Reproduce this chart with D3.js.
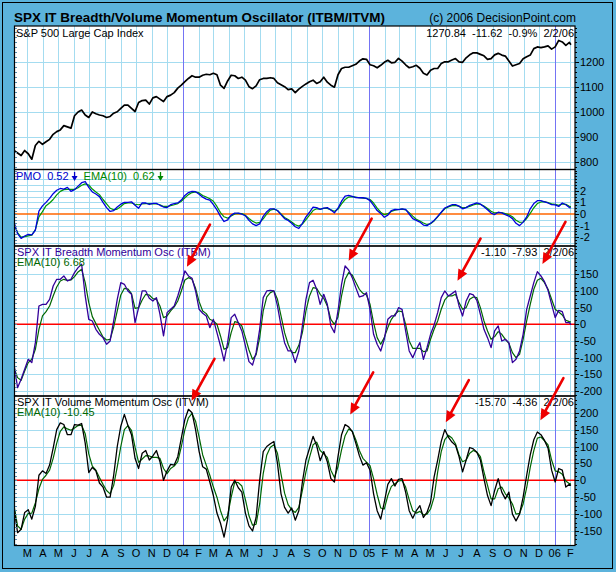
<!DOCTYPE html>
<html><head><meta charset="utf-8">
<script src="https://cdn.jsdelivr.net/npm/d3@7"></script>
<style>html,body{margin:0;padding:0;background:#fff;} svg{display:block;} text{white-space:pre;}</style>
</head><body><svg id="c" width="616" height="572"></svg>
<script>
// ---------------- DATA (weekly readings, first week starts 2003-02-03, last point 2006-02-02) ----------------
const firstWeek = new Date(2003, 1, 3);
const lastDay = new Date(2006, 1, 2);

const spx = [845,835,825,845,832,810,865,882,870,880, 890,910,921,928,945,940,935,985,1000,1008,
 988,978,1000,993,988,985,978,982,995,1001, 1015,1028,1028,1015,1002,1038,1046,1048,1032,1057,
 1062,1052,1042,1062,1068,1078,1096,1108,1122,1135, 1146,1140,1140,1148,1152,1150,1156,1150,1108,1095,
 1125,1148,1146,1135,1140,1128,1102,1094,1105,1130, 1135,1135,1138,1135,1118,1110,1102,1090,1093,1078,
 1092,1103,1113,1122,1128,1115,1122,1140,1120,1108, 1100,1150,1175,1180,1180,1186,1192,1205,1214,1212,
 1190,1186,1178,1188,1200,1208,1198,1200,1216,1205, 1190,1178,1182,1188,1176,1156,1149,1168,1175,1175,
 1195,1202,1202,1209,1215,1202,1200,1218,1230,1238, 1238,1232,1226,1212,1215,1230,1236,1229,1225,1205,
 1185,1190,1195,1214,1222,1229,1255,1262,1259,1262, 1266,1253,1262,1288,1282,1268,1280,1270.84];

const pmo = [-0.7,-1.7,-2.1,-1.9,-1.75,-1.8,-1.4,0.25,0.7,1.0, 1.35,1.75,2.05,2.2,2.15,2.3,1.95,2.1,2.4,2.7,
 2.8,2.3,1.9,1.72,1.5,1.0,0.55,0.22,0.3,0.6, 0.85,1.0,1.0,1.05,0.75,0.5,0.95,0.95,0.82,0.92,
 0.92,0.75,0.6,0.55,0.8,0.9,0.95,1.2,1.6,1.85, 1.95,1.92,1.7,1.45,1.28,1.2,0.8,0.36,-0.2,-0.65,
 -0.5,-0.1,0.08,0.08,-0.02,-0.15,-0.55,-0.85,-1.0,-0.85, -0.2,0.2,0.45,0.45,0.3,-0.05,-0.4,-0.55,-0.8,-1.1,
 -1.25,-0.8,-0.25,0.15,0.6,0.55,0.4,0.5,0.55,0.35, 0.1,0.5,1.1,1.55,1.6,1.52,1.42,1.4,1.4,1.35,
 1.15,0.75,0.3,0.05,-0.28,-0.1,0.3,0.4,0.38,0.45, 0.4,0.0,-0.4,-0.55,-0.7,-0.95,-1.0,-0.8,-0.55,-0.2,
 0.15,0.52,0.66,0.8,0.8,0.68,0.45,0.55,0.75,0.85, 0.95,0.85,0.62,0.36,0.08,-0.05,0.15,0.1,-0.05,-0.18,
 -0.4,-0.8,-1.0,-0.7,-0.25,0.45,0.9,1.15,1.15,1.05, 0.95,0.8,0.78,0.65,0.95,0.8,0.55,0.52];

const pmoEma = [-0.9,-1.6,-2.0,-1.95,-1.88,-1.82,-1.35,-0.25,0.2,0.72, 0.95,1.25,1.65,1.95,2.1,2.12,2.12,2.12,2.27,2.48,
 2.6,2.5,2.15,1.9,1.67,1.25,0.87,0.5,0.36,0.42, 0.65,0.9,0.95,0.95,0.84,0.8,0.86,0.9,0.9,0.86,
 0.86,0.8,0.65,0.65,0.72,0.8,0.9,1.1,1.4,1.67, 1.85,1.9,1.82,1.6,1.46,1.31,1.1,0.65,0.12,-0.24,
 -0.36,-0.18,0.0,0.06,0.03,-0.12,-0.39,-0.63,-0.78,-0.72, -0.42,0.0,0.33,0.42,0.3,0.0,-0.3,-0.48,-0.69,-0.93,
 -1.04,-0.87,-0.48,-0.09,0.3,0.45,0.42,0.48,0.48,0.36, 0.24,0.42,0.87,1.25,1.46,1.5,1.46,1.4,1.37,1.34,
 1.25,0.95,0.5,0.15,-0.06,0.03,0.21,0.33,0.39,0.42, 0.36,0.12,-0.18,-0.45,-0.6,-0.78,-0.9,-0.84,-0.6,-0.24,
 0.12,0.45,0.6,0.72,0.75,0.66,0.54,0.57,0.66,0.78, 0.87,0.84,0.69,0.48,0.24,0.09,0.12,0.12,0.03,-0.06,
 -0.24,-0.54,-0.72,-0.69,-0.39,0.06,0.54,0.9,1.04,1.07, 0.98,0.87,0.84,0.75,0.87,0.84,0.66,0.62];

const itbm = [-120,-190,-165,-135,-105,-115,-55,55,60,60, 75,115,135,135,145,130,135,155,170,180,
 85,15,10,-15,-30,-40,-60,-50,10,75, 125,120,100,90,5,50,100,100,78,70,
 80,30,-35,35,45,55,85,120,160,145, 138,100,45,33,25,-10,15,-25,-65,-110,
 -55,20,30,5,-20,-65,-112,-122,-85,-15, 80,100,102,100,55,-5,-55,-80,-80,-115,
 -80,-5,75,125,132,105,60,90,60,-5, -25,40,120,175,163,140,110,82,85,95,
 45,-30,-60,-80,-45,15,25,25,50,45, -20,-80,-100,-75,-55,-105,-70,-30,-2,35,
 80,100,85,92,100,55,25,70,92,88, 72,30,-15,-40,-70,-20,-5,-50,-45,-55,
 -115,-105,-80,-30,45,85,125,158,145,128, 102,60,20,42,38,5,5,-1.1];

const itbmEma = [-130,-160,-168,-140,-115,-105,-75,-15,25,38, 55,85,112,130,135,132,133,143,157,165,
 125,65,23,2,-18,-38,-47,-45,-8,40, 88,108,106,92,48,50,73,90,88,77,
 75,55,20,25,40,52,70,100,133,140, 135,108,68,40,32,15,10,0,-35,-75,
 -70,-25,8,5,-5,-40,-77,-105,-92,-40, 40,82,95,100,75,25,-25,-60,-85,-85,
 -63,-25,40,85,110,108,90,78,55,15, 0,22,85,135,155,148,126,105,93,88,
 60,5,-40,-60,-40,-10,15,30,40,38, 0,-50,-72,-72,-72,-82,-80,-45,-15,10,
 45,73,85,85,90,65,45,50,75,82, 80,50,10,-20,-45,-37,-22,-30,-45,-57,
 -85,-100,-90,-45,10,60,105,132,138,125, 105,75,45,37,28,12,8,6.68];

const itvm = [-80,-155,-145,-95,-87,-115,-77,15,28,20, 45,95,150,170,165,135,135,165,163,168,
 110,23,38,28,-8,-20,-50,-50,15,100, 160,195,162,135,65,35,80,88,60,72,
 88,55,0,28,47,45,70,125,180,210, 200,150,85,40,33,-5,-45,-97,-127,-168,
 -115,-20,0,-22,-35,-97,-135,-150,-110,0, 85,100,108,115,50,-40,-80,-97,-82,-118,
 -90,-5,60,95,130,103,58,85,55,5, -5,70,135,165,158,145,110,73,45,52,
 30,-40,-90,-115,-65,-12,5,-17,3,5, -35,-90,-112,-90,-75,-110,-95,-65,10,60,
 115,150,128,113,104,70,25,60,97,93, 83,60,5,-45,-75,-30,5,-35,-55,-35,
 -100,-120,-100,-50,15,75,120,143,135,118, 95,30,-5,35,30,-20,-12,-15.7];

const itvmEma = [-75,-135,-145,-115,-98,-97,-67,-25,3,15, 30,65,110,145,158,152,148,155,162,163,
 138,78,42,30,8,-12,-30,-40,-15,40, 100,150,162,148,98,53,63,73,72,68,
 68,65,35,20,35,42,55,100,150,185, 198,175,128,75,45,15,-20,-50,-90,-120,
 -105,-50,-5,-7,-17,-57,-105,-133,-130,-70, 20,75,98,105,80,18,-38,-72,-87,-95,
 -80,-30,25,68,105,113,88,78,68,30, 8,40,90,132,152,145,120,88,65,54,
 43,5,-42,-82,-85,-45,-18,-10,-2,0, -20,-57,-90,-97,-92,-102,-100,-85,-50,25,
 85,120,133,125,108,75,55,60,80,88, 83,70,25,-15,-55,-55,-25,-20,-40,-52,
 -70,-100,-98,-70,-22,38,88,125,128,117, 105,60,28,25,18,-2,-10,-10.45];

// tick labels
const p1Ticks = [800, 900, 1000, 1100, 1200];
const p2Ticks = [-2, -1, 0, 1, 2];
const p3Ticks = [-200, -150, -100, -50, 0, 50, 100, 150];
const p4Ticks = [-150, -100, -50, 0, 50, 100, 150, 200];
const monthLabels = ["M","A","M","J","J","A","S","O","N","D","04","F","M","A","M","J","J","A","S","O","N","D","05","F","M","A","M","J","J","A","S","O","N","D","06","F"];
const firstLabelMonth = new Date(2003, 2, 1);

// annotation arrows: tip at (date, value) in a panel
const arrowPanels = [2, 2, 2, 2, 3, 3, 3, 3];
const arrowDates = [new Date(2004,0,9), new Date(2004,10,22), new Date(2005,5,24), new Date(2005,11,8),
                    new Date(2004,0,18), new Date(2004,10,25), new Date(2005,5,1), new Date(2005,11,4)];
const arrowValues = [173, 191, 131, 181, 235, 195, 172, 178];

// texts
const titleText = "SPX IT Breadth/Volume Momentum Oscillator (ITBM/ITVM)";
const copyText = "(c) 2006 DecisionPoint.com";

// ---------------- DRAWING ----------------
const dates = spx.map((d, i) => i < spx.length - 1 ? d3.timeDay.offset(firstWeek, 7 * i) : lastDay);
const FONT = "'Liberation Sans', Arial, Helvetica, sans-serif";
const svg = d3.select("#c");
const W = 616, H = 572, L = 14, R = 575;

svg.append("rect").attr("width", W).attr("height", H).attr("fill", "#5cb3dc");
svg.append("rect").attr("x", 2.5).attr("y", 2.5).attr("width", 610).attr("height", 566)
  .attr("fill", "none").attr("stroke", "#000").attr("stroke-width", 1);

const x = d3.scaleTime().domain([new Date(2003, 1, 3), new Date(2006, 1, 10)]).range([L, R]);

const panels = [
  { top: 26, bottom: 169.5, y: d3.scaleLinear().domain([800, 1200]).range([161.7, 62.3]),
    ticks: p1Ticks, grid: d3.range(800, 1201, 100), minor: 20, zero: null },
  { top: 169.5, bottom: 246, y: d3.scaleLinear().domain([0, 2]).range([214, 190.8]),
    ticks: p2Ticks, grid: d3.range(-2.5, 3.1, 0.5).filter(v => v !== 0), minor: 0.25, zero: "#ff6600" },
  { top: 246, bottom: 396, y: d3.scaleLinear().domain([0, 150]).range([324.3, 274.3]),
    ticks: p3Ticks, grid: d3.range(-200, 201, 50).filter(v => v !== 0), minor: 12.5, zero: "#ff0000" },
  { top: 396, bottom: 545.5, y: d3.scaleLinear().domain([0, 200]).range([480.3, 412.7]),
    ticks: p4Ticks, grid: d3.range(-150, 201, 50).filter(v => v !== 0), minor: 12.5, zero: "#ff0000" }
];

const monthDates = monthLabels.map((m, i) => d3.timeMonth.offset(firstLabelMonth, i));
const GRID = "#a4dcf0", YEAR = "#7474f4";

panels.forEach((p, pi) => {
  const g = svg.append("g");
  const cid = "clip" + pi;
  svg.append("clipPath").attr("id", cid).append("rect")
    .attr("x", L).attr("y", p.top).attr("width", R - L).attr("height", p.bottom - p.top);
  g.append("rect").attr("x", L).attr("y", p.top).attr("width", R - L).attr("height", p.bottom - p.top).attr("fill", "#fff");
  // horizontal grid
  g.selectAll(".hg").data(p.grid.filter(v => p.y(v) > p.top + 0.5 && p.y(v) < p.bottom - 0.5)).enter().append("line")
    .attr("x1", L).attr("x2", R).attr("y1", v => Math.round(p.y(v)) + 0.5).attr("y2", v => Math.round(p.y(v)) + 0.5)
    .attr("stroke", GRID).attr("stroke-width", 1);
  // vertical grid
  monthDates.forEach((d, i) => {
    const xx = Math.round(x(d)) + 0.5;
    const isYear = d.getMonth() === 0;
    g.append("line").attr("x1", xx).attr("x2", xx).attr("y1", p.top).attr("y2", p.bottom)
      .attr("stroke", isYear ? YEAR : GRID).attr("stroke-width", 1);
  });
  if (p.zero) {
    g.append("line").attr("x1", L).attr("x2", R).attr("y1", p.y(0)).attr("y2", p.y(0))
      .attr("stroke", p.zero).attr("stroke-width", 1.5);
  }
  // minor ticks left (inward) and right (outward)
  const [d0, d1] = [p.y.invert(p.bottom), p.y.invert(p.top)];
  const mt = d3.range(Math.ceil(d0 / p.minor) * p.minor, d1, p.minor);
  svg.selectAll(null).data(mt).enter().append("line")
    .attr("x1", L).attr("x2", L + 3).attr("y1", v => Math.round(p.y(v)) + 0.5).attr("y2", v => Math.round(p.y(v)) + 0.5)
    .attr("stroke", "#5a8fb0").attr("stroke-width", 1);
  svg.selectAll(null).data(mt).enter().append("line")
    .attr("x1", R).attr("x2", R + 2).attr("y1", v => Math.round(p.y(v)) + 0.5).attr("y2", v => Math.round(p.y(v)) + 0.5)
    .attr("stroke", "#000").attr("stroke-width", 1);
  // major ticks + labels
  p.ticks.forEach(v => {
    const yy = p.y(v);
    svg.append("line").attr("x1", R).attr("x2", R + 4).attr("y1", Math.round(yy) + 0.5).attr("y2", Math.round(yy) + 0.5)
      .attr("stroke", "#000");
    svg.append("text").attr("x", R + 5).attr("y", yy + 4).attr("font-family", FONT).attr("font-size", 11)
      .attr("fill", "#000").text(v);
  });
  p.clip = "url(#" + cid + ")";
  p.g = g;
});

function drawLine(p, vals, color, w) {
  const line = d3.line().x((d, i) => x(dates[i])).y(d => p.y(d));
  p.g.append("path").datum(vals).attr("d", line).attr("fill", "none").attr("stroke", color)
    .attr("stroke-width", w).attr("stroke-linejoin", "round").attr("clip-path", p.clip);
}
drawLine(panels[0], spx, "#000", 1.7);
drawLine(panels[1], pmoEma, "#009900", 1.2);
drawLine(panels[1], pmo, "#0000dd", 1.3);
drawLine(panels[2], itbmEma, "#006600", 1.2);
drawLine(panels[2], itbm, "#330099", 1.3);
drawLine(panels[3], itvmEma, "#006600", 1.2);
drawLine(panels[3], itvm, "#000", 1.3);

// panel borders
panels.forEach(p => {
  svg.append("rect").attr("x", L + 0.5).attr("y", p.top).attr("width", R - L - 0.5).attr("height", p.bottom - p.top)
    .attr("fill", "none").attr("stroke", "#000").attr("stroke-width", 1.2);
});

// month labels
svg.selectAll(".ml").data(monthLabels).enter().append("text")
  .attr("x", (d, i) => x(monthDates[i])).attr("y", 557).attr("text-anchor", "middle")
  .attr("font-family", FONT).attr("font-size", 11).attr("fill", "#000").text(d => d);

// titles
svg.append("text").attr("x", 14).attr("y", 22).attr("font-family", FONT).attr("font-size", 13.5)
  .attr("font-weight", "bold").attr("textLength", 371).attr("lengthAdjust", "spacingAndGlyphs").attr("fill", "#000").text(titleText);
svg.append("text").attr("x", 576).attr("y", 22).attr("text-anchor", "end").attr("font-family", FONT)
  .attr("font-size", 12).attr("fill", "#000").text(copyText);

function label(xp, yp, txt, color, anchor) {
  return svg.append("text").attr("x", xp).attr("y", yp).attr("font-family", FONT).attr("font-size", 11)
    .attr("fill", color).attr("text-anchor", anchor || "start").text(txt);
}
label(16, 36.5, "S&P 500 Large Cap Index", "#000");
label(574, 36.5, "1270.84  -11.62  -0.9%  2/2/06", "#000", "end");

function downArrow(xp, color) {
  svg.append("line").attr("x1", xp).attr("x2", xp).attr("y1", 172).attr("y2", 178).attr("stroke", color).attr("stroke-width", 1.3);
  svg.append("path").attr("d", `M${xp - 3},${176} L${xp + 3},${176} L${xp},${181} Z`).attr("fill", color);
}
const t1 = label(16, 180, "PMO  " + pmo[pmo.length - 1].toFixed(2), "#0000cc");
const e1 = t1.node().getComputedTextLength();
downArrow(16 + e1 + 6, "#0000cc");
const t2 = label(16 + e1 + 15, 180, "EMA(10)  " + pmoEma[pmoEma.length - 1].toFixed(2), "#008800");
downArrow(16 + e1 + 15 + t2.node().getComputedTextLength() + 6, "#008800");

label(17, 255.5, "SPX IT Breadth Momentum Osc (ITBM)", "#330099");
label(17, 266, "EMA(10) " + itbmEma[itbmEma.length - 1].toFixed(2), "#006600");
label(574, 255.5, itbm[itbm.length - 1].toFixed(2) + "  -7.93  2/2/06", "#000", "end");

label(17, 405.5, "SPX IT Volume Momentum Osc (ITVM)", "#000");
label(17, 416, "EMA(10) " + itvmEma[itvmEma.length - 1].toFixed(2), "#006600");
label(574, 405.5, itvm[itvm.length - 1].toFixed(2) + "  -4.36  2/2/06", "#000", "end");

// red arrows
const ARROW_DX = 23, ARROW_DY = -42;
arrowDates.forEach((d, i) => {
  const p = panels[arrowPanels[i]];
  const tx = x(d), ty = p.y(arrowValues[i]);
  const sx = tx + ARROW_DX, sy = ty + ARROW_DY;
  const len = Math.hypot(tx - sx, ty - sy);
  const ux = (tx - sx) / len, uy = (ty - sy) / len, nx = -uy, ny = ux;
  const hl = 11, hw = 5;
  const bx = tx - ux * hl, by = ty - uy * hl;
  svg.append("line").attr("x1", sx).attr("y1", sy).attr("x2", bx + ux * 2).attr("y2", by + uy * 2)
    .attr("stroke", "#ee0000").attr("stroke-width", 2.6).attr("stroke-linecap", "round");
  svg.append("path").attr("d", `M${tx},${ty} L${bx + nx * hw},${by + ny * hw} L${bx - nx * hw},${by - ny * hw} Z`)
    .attr("fill", "#ee0000");
});
</script></body></html>
